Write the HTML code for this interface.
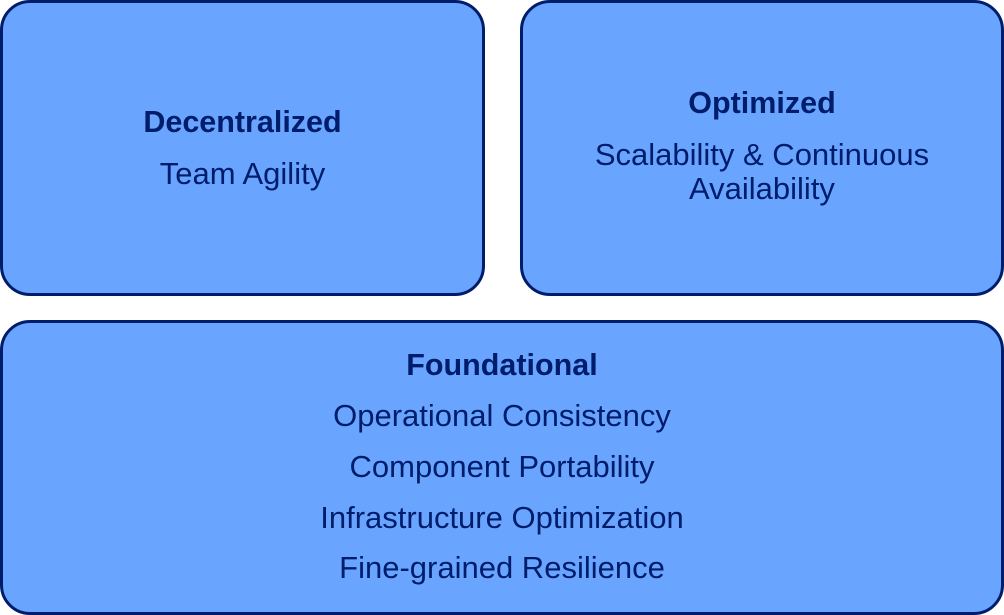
<!DOCTYPE html>
<html><head><meta charset="utf-8"><style>
html,body{margin:0;padding:0;background:#fff;width:1004px;height:615px;overflow:hidden}
.box{position:absolute;box-sizing:border-box;border:3px solid #001d6c;border-radius:30px;background:#69a5ff}
.t{position:absolute;left:0;right:0;text-align:center;font-family:"Liberation Sans",sans-serif;font-size:31px;line-height:34px;color:#001d6c;white-space:nowrap}
.b{font-weight:bold;font-size:30.5px}
</style></head><body>
<div class="box" style="left:0;top:0;width:485px;height:296px">
<div class="t b" style="top:102px">Decentralized</div>
<div class="t" style="top:154px">Team Agility</div>
</div>
<div class="box" style="left:520px;top:0;width:484px;height:296px">
<div class="t b" style="top:83px">Optimized</div>
<div class="t" style="top:135px">Scalability &amp; Continuous</div>
<div class="t" style="top:169px">Availability</div>
</div>
<div class="box" style="left:0;top:320px;width:1004px;height:295px">
<div class="t b" style="top:25px">Foundational</div>
<div class="t" style="top:76px">Operational Consistency</div>
<div class="t" style="top:127px">Component Portability</div>
<div class="t" style="top:178px">Infrastructure Optimization</div>
<div class="t" style="top:228px">Fine-grained Resilience</div>
</div>
</body></html>
